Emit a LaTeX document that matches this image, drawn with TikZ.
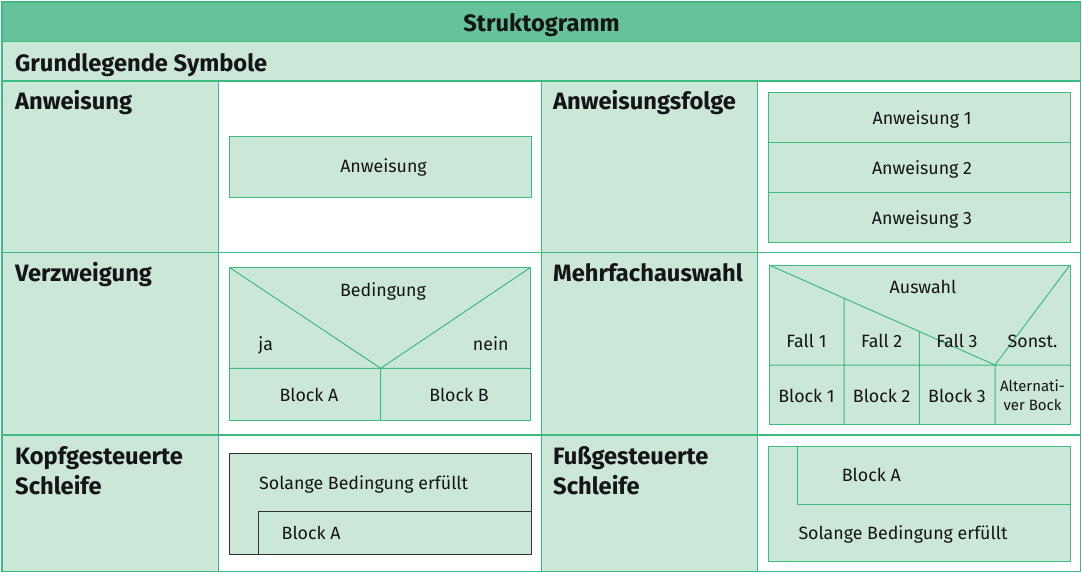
\documentclass[tikz,border=0pt]{standalone}
\usepackage{fontspec}
\setmainfont{Fira Sans}
\definecolor{hdr}{HTML}{66C399}
\definecolor{lgt}{HTML}{CBE7D7}
\definecolor{ln}{HTML}{3DBB80}
\definecolor{txt}{HTML}{151515}
\definecolor{dk}{HTML}{333333}
\tikzset{
  grid/.style={draw=ln, line width=1.2pt},
  sbox/.style={fill=lgt, draw=ln, line width=1pt},
  lbl/.style={anchor=base west, inner sep=0pt, text=txt, font=\fontsize{23.7}{28}\selectfont\bfseries},
  txtc/.style={anchor=base, inner sep=0pt, text=txt, font=\fontsize{17.8}{21}\selectfont},
  txtw/.style={anchor=base west, inner sep=0pt, text=txt, font=\fontsize{17.8}{21}\selectfont},
}
\begin{document}
\begin{tikzpicture}[x=1pt,y=-1pt]
\useasboundingbox (0,0) rectangle (1082,573);
% backgrounds
\fill[white] (2,2) rectangle (1080.5,571.5);
\fill[hdr] (2,2) rectangle (1080.5,41.5);
\fill[lgt] (2,41.5) rectangle (1080.5,81);
\fill[lgt] (2,81) rectangle (218.3,571.5);
\fill[lgt] (541.7,81) rectangle (757.7,571.5);
% grid
\draw[grid] (2,2) rectangle (1080.5,571.5);
\draw[grid] (2,41.5) -- (1080.5,41.5);
\draw[grid] (2,81) -- (1080.5,81);
\draw[grid] (2,252.7) -- (1080.5,252.7);
\draw[grid] (2,435) -- (1080.5,435);
\draw[grid] (218.3,81) -- (218.3,571.5);
\draw[grid] (541.7,81) -- (541.7,571.5);
\draw[grid] (757.7,81) -- (757.7,571.5);
% headings
\node[anchor=base, inner sep=0pt, text=txt, font=\fontsize{23.7}{28}\selectfont\bfseries] (title) at (541.5,31) {Struktogramm};
\node[lbl] (sub) at (15,71) {Grundlegende Symbole};
\node[lbl] (l1) at (15,109) {Anweisung};
\node[lbl] (l2) at (553,109) {Anweisungsfolge};
\node[lbl] (l3) at (15,281) {Verzweigung};
\node[lbl] (l4) at (553,281) {Mehrfachauswahl};
\node[lbl] (l5) at (15,464) {Kopfgesteuerte};
\node[lbl] (l5b) at (15,494) {Schleife};
\node[lbl] (l6) at (553,464) {Fußgesteuerte};
\node[lbl] (l6b) at (553,494) {Schleife};
% Anweisung
\draw[sbox] (229.3,136.7) rectangle (531,197.7);
\node[txtc] (a1) at (383.5,172) {Anweisung};
% Anweisungsfolge
\draw[sbox] (768.3,92.7) rectangle (1070,242.3);
\draw[draw=ln, line width=1pt] (768.3,142.3) -- (1070,142.3) (768.3,192.3) -- (1070,192.3);
\node[txtc] (f1) at (922,124.3) {Anweisung 1};
\node[txtc] (f2) at (922,174.3) {Anweisung 2};
\node[txtc] (f3) at (922,224.3) {Anweisung 3};
% Verzweigung
\draw[sbox] (229.3,267.3) rectangle (530.7,420);
\coordinate (vv) at (380.7,368.3);
\draw[draw=ln, line width=1pt] (229.3,368.3) -- (530.7,368.3) (229.3,267.3) -- (vv) -- (530.7,267.3) (vv) -- (380.7,420);
\node[txtc] (v1) at (383,296.7) {Bedingung};
\node[txtc] (v2) at (265.7,350) {ja};
\node[txtc] (v3) at (490.7,350) {nein};
\node[txtc] (v4) at (309,401) {Block A};
\node[txtc] (v5) at (459,401) {Block B};
% Mehrfachauswahl
\draw[sbox] (769,265) rectangle (1070,424);
\coordinate (mv) at (995,365);
\draw[draw=ln, line width=1pt] (769,365) -- (1070,365) (769,265) -- (mv) -- (1070,265) (mv) -- (995,424)
  (844,298.2) -- (844,424) (919.3,331.5) -- (919.3,424);
\node[txtc] (m0) at (923,293.3) {Auswahl};
\node[txtc] (m1) at (806.5,347.3) {Fall 1};
\node[txtc] (m2) at (881.7,347.3) {Fall 2};
\node[txtc] (m3) at (957,347.3) {Fall 3};
\node[txtc] (m4) at (1032.5,347.3) {Sonst.};
\node[txtc] (b1) at (806.5,402.3) {Block 1};
\node[txtc] (b2) at (881.7,402.3) {Block 2};
\node[txtc] (b3) at (957,402.3) {Block 3};
\node[txtc, font=\fontsize{15}{19}\selectfont, align=center] (b4) at (1032.5,410) {Alternati-\\ver Bock};
% Kopfgesteuerte Schleife
\draw[fill=lgt, draw=dk, line width=0.9pt] (229.3,453) rectangle (531,554);
\draw[draw=dk, line width=0.9pt] (258.3,554) -- (258.3,511) -- (531,511);
\node[txtw] (k1) at (259,489) {Solange Bedingung erfüllt};
\node[txtw] (k2) at (281.5,539) {Block A};
% Fußgesteuerte Schleife
\draw[sbox] (768.3,446.7) rectangle (1070,561.7);
\draw[draw=ln, line width=1pt] (797.3,446.7) -- (797.3,504.3) -- (1070,504.3);
\node[txtw] (u1) at (841.7,481.7) {Block A};
\node[txtw] (u2) at (798.3,539) {Solange Bedingung erfüllt};
\end{tikzpicture}
\end{document}
